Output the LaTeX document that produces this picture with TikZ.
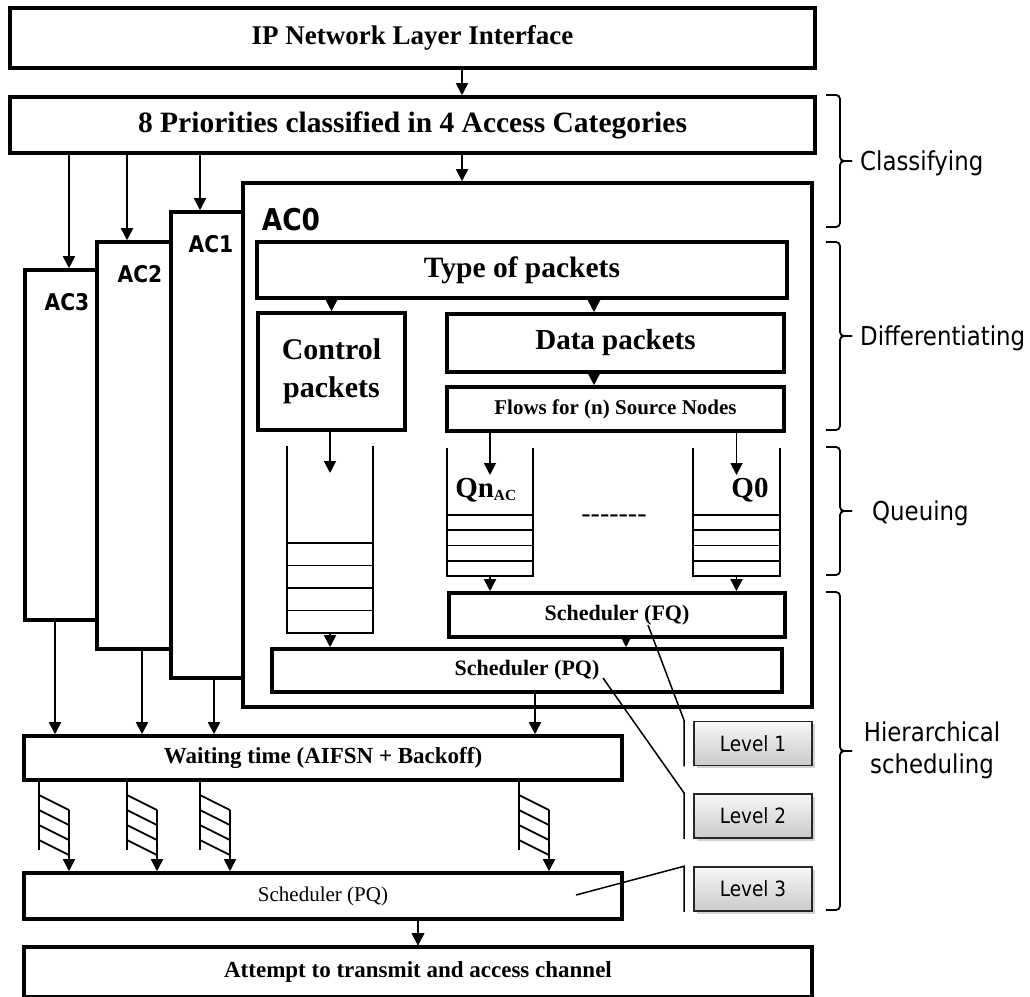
\documentclass[tikz,border=0pt]{standalone}
\usepackage{fontspec}
\setmainfont{Liberation Serif}
\newfontfamily\tahfont{DejaVu Sans}[FakeStretch=0.88]
\usetikzlibrary{arrows.meta,positioning,calc,shadows}
\newcommand{\fs}[2]{\fontsize{#1}{#2}\selectfont}
\tikzset{
  box/.style={draw, line width=3.6pt, fill=white, inner sep=0pt, align=center},
  arr/.style={-{Triangle[width=12pt,length=12pt]}, line width=1.8pt},
  qln/.style={line width=1.8pt},
  callln/.style={line width=1.5pt},
  aclbl/.style={inner sep=0pt, font=\tahfont\bfseries\fs{23}{28}},
  levelbox/.style={draw=black!85, line width=1.6pt, top color=gray!6, bottom color=gray!42,
    drop shadow={shadow xshift=2.5pt, shadow yshift=-2.5pt, opacity=0.35},
    minimum width=118, minimum height=44, inner sep=0pt, font=\tahfont\fs{21}{25}},
  braceln/.style={line width=1.8pt, rounded corners=4pt},
  stagelbl/.style={inner sep=0pt, font=\tahfont\fs{26}{32}, align=center},
}
% open queue: name, left, right, top, first cell line, bottom
\newcommand{\pktqueue}[6]{%
  \draw[qln] (#2,#4) -- (#2,#6) -- (#3,#6) -- (#3,#4);
  \foreach \k in {0,...,3}
    \draw[qln] (#2,{#5+\k*(#6-#5)/4}) -- (#3,{#5+\k*(#6-#5)/4});
  \coordinate (#1-in) at ({(#2+#3)/2},{#4+27});
  \coordinate (#1-out) at ({(#2+#3)/2},#6);
}
% backoff ladder under the waiting box
\newcommand{\backoff}[1]{%
  \pgfmathsetmacro\rx{#1+30}
  \draw[qln] (wait.south -| #1,0) -- (#1,850);
  \foreach \k in {0,...,3}
    \draw[qln] (#1,{795+15*\k}) -- ++(30,15);
  \draw[arr] (\rx,810) -- (pqout.north -| \rx,0);
}
\newcommand{\stagebrace}[2]{%
  \draw[braceln] (826,#1) -| (840,{(#1+#2)/2}) -- (852,{(#1+#2)/2});
  \draw[braceln] (826,#2) -| (840,{(#1+#2)/2}) -- (852,{(#1+#2)/2});
}

\begin{document}
\begin{tikzpicture}[x=1pt, y=-1pt]
  \useasboundingbox (0,0) rectangle (1030,996);
  % top of the stack
  \node[box, minimum width=805, minimum height=60, font=\bfseries\fs{27}{32}] (ip)
    at (412.5,38) {IP Network Layer Interface};
  \node[box, minimum width=805, minimum height=56, font=\bfseries\fs{29.5}{32}] (prio)
    at (412.5,125) {8 Priorities classified in 4 Access Categories};
  % access categories
  \node[box, minimum width=72, minimum height=350] (ac3) at (61,445) {};
  \node[box, minimum width=74, minimum height=407] (ac2) at (134,445.5) {};
  \node[box, minimum width=72, minimum height=466] (ac1) at (207,445) {};
  \node[box, minimum width=569, minimum height=524] (ac0) at (527.5,445) {};
  \node[aclbl] (ac3-lbl) at (67,302) {AC3};
  \node[aclbl] (ac2-lbl) at (140,274) {AC2};
  \node[aclbl] (ac1-lbl) at (211,244) {AC1};
  \node[aclbl, font=\tahfont\bfseries\fs{30}{34}] (ac0-lbl) at (291,220) {AC0};
  % inside AC0
  \node[box, minimum width=530, minimum height=56, font=\bfseries\fs{29.5}{32}] (type)
    at (522,270) {Type of packets};
  \node[box, minimum width=147, minimum height=117, font=\bfseries\fs{30}{38}] (ctrl)
    at (331.5,371.5) {Control\\packets};
  \node[box, minimum width=337, minimum height=58, font=\bfseries\fs{29}{32}] (data)
    at (615.5,343) {Data packets};
  \node[box, minimum width=337, minimum height=44, font=\bfseries\fs{21}{24}] (flows)
    at (615.5,409) {Flows for (n) Source Nodes};
  \node[box, minimum width=336, minimum height=44, font=\bfseries\fs{22}{24}] (fq)
    at (617,615) {Scheduler (FQ)};
  \node[box, minimum width=510, minimum height=43, font=\bfseries\fs{22}{24}] (pqin)
    at (527,670.5) {Scheduler (PQ)};
  \pktqueue{cq}{287}{373}{446}{543}{633}
  \pktqueue{qn}{447}{533}{448}{515}{576}
  \pktqueue{qz}{693}{780}{448}{515}{576}
  \node[inner sep=0pt, font=\bfseries\fs{29}{32}] (qn-lbl) at (486,490)
    {Qn{\fs{22}{24}\textsubscript{AC}}};
  \node[inner sep=0pt, font=\bfseries\fs{29}{32}] (qz-lbl) at (750,490) {Q0};
  \node[inner sep=0pt, font=\fs{28}{32}] (more) at (614,519) {-{}-{}-{}-{}-{}-{}-};
  % lower part
  \node[box, minimum width=598, minimum height=44, font=\bfseries\fs{23}{26}] (wait)
    at (323,758) {Waiting time (AIFSN + Backoff)};
  \node[box, minimum width=598, minimum height=46, font=\fs{21}{24}] (pqout)
    at (323,896) {Scheduler (PQ)};
  \node[box, minimum width=788, minimum height=50, font=\bfseries\fs{23}{26}] (attempt)
    at (418,972) {Attempt to transmit and access channel};
  % arrows
  \draw[arr] (ip.south -| 462,0) -- (prio.north -| 462,0);
  \foreach \n/\x in {ac3/69, ac2/127, ac1/200, ac0/462}
    \draw[arr] (prio.south -| \x,0) -- (\n.north -| \x,0);
  \draw[arr] (type.south -| ctrl.north) -- (ctrl.north);
  \draw[arr] (type.south -| 594,0) -- (data.north -| 594,0);
  \draw[arr] (data.south -| 594,0) -- (flows.north -| 594,0);
  \draw[arr] (ctrl.south -| cq-in) -- (cq-in);
  \draw[arr] (flows.south -| qn-in) -- (qn-in);
  \draw[arr] (flows.south -| qz-in) -- (qz-in);
  \draw[arr] (cq-out) -- (pqin.north -| cq-out);
  \draw[arr] (qn-out) -- (fq.north -| qn-out);
  \draw[arr] (qz-out) -- (fq.north -| qz-out);
  \draw[arr] (fq.south -| 626,0) -- (pqin.north -| 626,0);
  \foreach \n/\x in {ac3/55, ac2/142, ac1/214, pqin/535}
    \draw[arr] (\n.south -| \x,0) -- (wait.north -| \x,0);
  \foreach \x in {39,127,200,519}
    \backoff{\x}
  \draw[arr] (pqout.south -| 418,0) -- (attempt.north -| 418,0);
  % levels
  \node[levelbox] (lvl1) at (753,743.5) {Level 1};
  \node[levelbox] (lvl2) at (753,816) {Level 2};
  \node[levelbox] (lvl3) at (753,889) {Level 3};
  \coordinate (fq-mark) at (648,625);
  \coordinate (pqin-mark) at (603,678);
  \coordinate (pqout-mark) at (576,895);
  \foreach \m/\l in {fq-mark/lvl1, pqin-mark/lvl2, pqout-mark/lvl3}
    \draw[callln] (\m) -- ([xshift=-9]\l.north west) -- ([xshift=-9]\l.south west);
  % stages
  \stagebrace{95}{227}
  \stagebrace{242}{430}
  \stagebrace{447}{575}
  \stagebrace{592}{910}
  \node[stagelbl, anchor=west] (cls) at (860,163) {Classifying};
  \node[stagelbl, anchor=west] (dif) at (860,338) {Differentiating};
  \node[stagelbl, anchor=west] (que) at (872,513) {Queuing};
  \node[stagelbl] (hier) at (932,750) {Hierarchical\\scheduling};
\end{tikzpicture}
\end{document}
